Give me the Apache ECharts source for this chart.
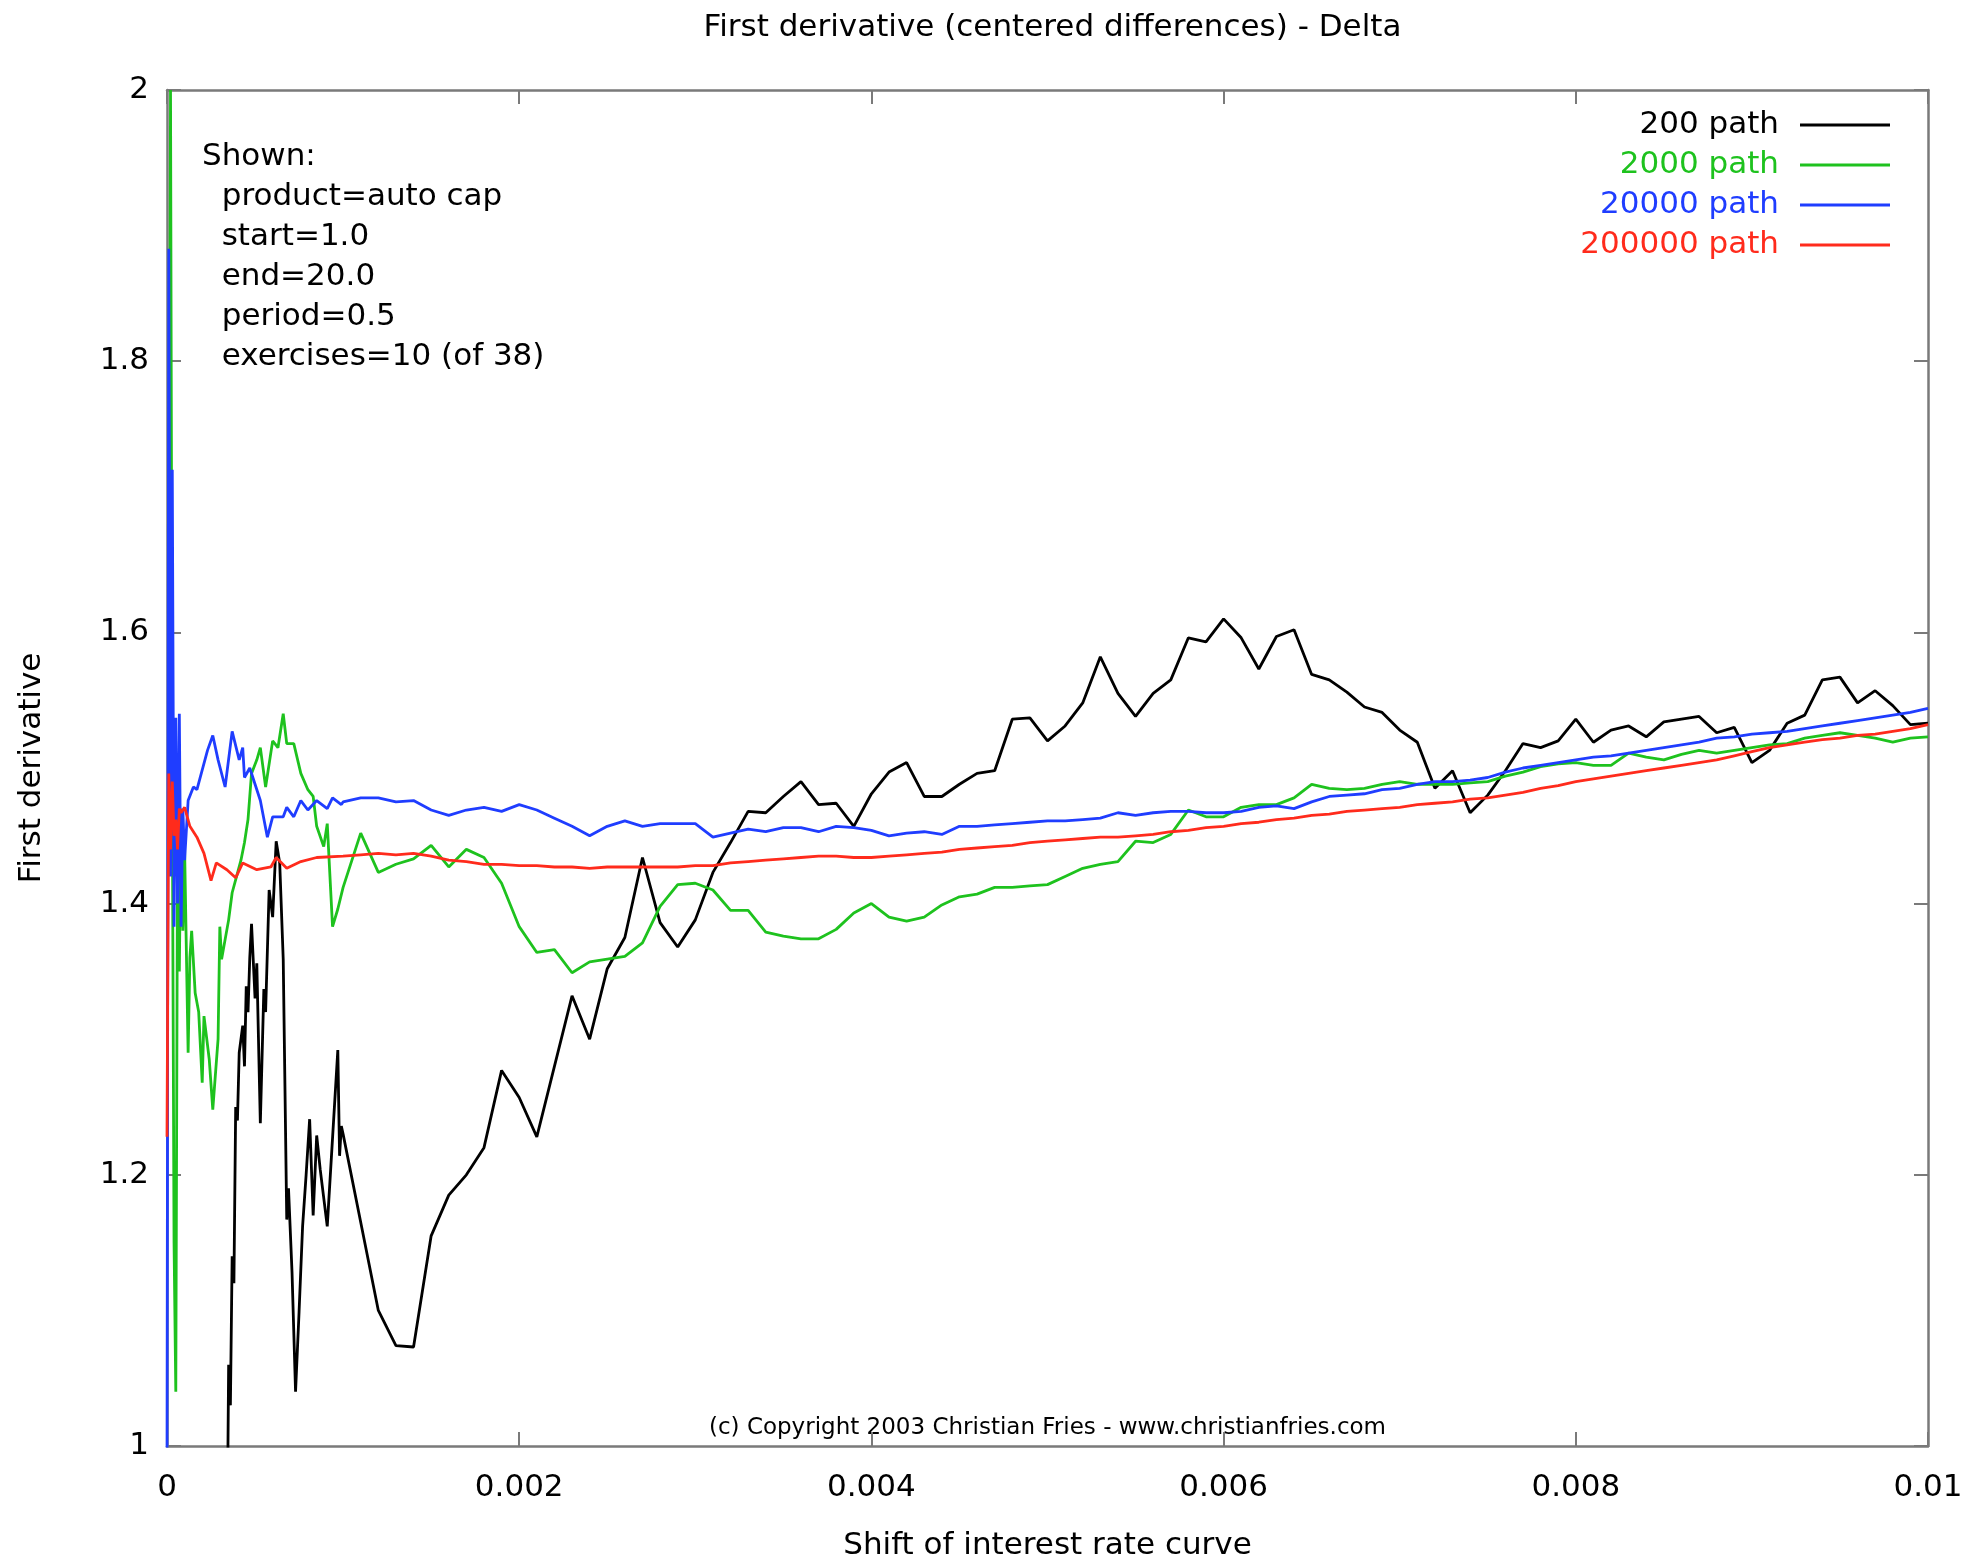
<!DOCTYPE html>
<html>
<head>
<meta charset="utf-8">
<title>First derivative (centered differences) - Delta</title>
<script src="https://cdn.jsdelivr.net/npm/echarts@6/dist/echarts.min.js"></script>
<style>
  html, body { margin: 0; padding: 0; background: #fff; }
  #chart { width: 1979px; height: 1566px; }
</style>
</head>
<body>
<div id="chart"></div>
<script>
// shift grid used from 0.001 on (step 0.0001)
const shiftCoarse = [
  0.0010, 0.0011, 0.0012, 0.0013, 0.0014, 0.0015, 0.0016, 0.0017, 0.0018, 0.0019,
  0.0020, 0.0021, 0.0022, 0.0023, 0.0024, 0.0025, 0.0026, 0.0027, 0.0028, 0.0029,
  0.0030, 0.0031, 0.0032, 0.0033, 0.0034, 0.0035, 0.0036, 0.0037, 0.0038, 0.0039,
  0.0040, 0.0041, 0.0042, 0.0043, 0.0044, 0.0045, 0.0046, 0.0047, 0.0048, 0.0049,
  0.0050, 0.0051, 0.0052, 0.0053, 0.0054, 0.0055, 0.0056, 0.0057, 0.0058, 0.0059,
  0.0060, 0.0061, 0.0062, 0.0063, 0.0064, 0.0065, 0.0066, 0.0067, 0.0068, 0.0069,
  0.0070, 0.0071, 0.0072, 0.0073, 0.0074, 0.0075, 0.0076, 0.0077, 0.0078, 0.0079,
  0.0080, 0.0081, 0.0082, 0.0083, 0.0084, 0.0085, 0.0086, 0.0087, 0.0088, 0.0089,
  0.0090, 0.0091, 0.0092, 0.0093, 0.0094, 0.0095, 0.0096, 0.0097, 0.0098, 0.0099,
  0.0100
]

// noisy start (shift < 0.001), read as [shift, value] vertices
const fine200 = [
  [0.00034, 0.9], [0.00035, 1.06], [0.00036, 1.03], [0.00037, 1.14], [0.00038, 1.12],
  [0.00039, 1.25], [0.0004, 1.24], [0.00041, 1.29], [0.00043, 1.31], [0.00044, 1.28],
  [0.00045, 1.339], [0.00046, 1.32], [0.00047, 1.36], [0.00048, 1.385], [0.0005, 1.33],
  [0.00051, 1.356], [0.00053, 1.238], [0.00055, 1.337], [0.00056, 1.32], [0.00058, 1.41],
  [0.0006, 1.39], [0.00062, 1.446], [0.00064, 1.43], [0.00066, 1.359], [0.00068, 1.167],
  [0.00069, 1.19], [0.00071, 1.128], [0.00073, 1.04], [0.00075, 1.099], [0.00077, 1.162],
  [0.00079, 1.2], [0.00081, 1.241], [0.00083, 1.17], [0.00085, 1.229], [0.00087, 1.204],
  [0.00091, 1.162], [0.00097, 1.292], [0.00098, 1.214], [0.00099, 1.236]
]
const fine2000 = [
  [0.00001, 1.5], [0.00002, 2.0], [0.00003, 1.48], [0.00004, 1.15], [0.00005, 1.04],
  [0.00006, 1.45], [0.00007, 1.35], [0.00008, 1.47], [0.00009, 1.38], [0.0001, 1.44],
  [0.00012, 1.29], [0.00013, 1.36], [0.00014, 1.38], [0.00016, 1.334], [0.00018, 1.32],
  [0.0002, 1.268], [0.00021, 1.317], [0.00024, 1.285], [0.00026, 1.248], [0.00029, 1.30],
  [0.0003, 1.383], [0.00031, 1.359], [0.00035, 1.388], [0.00037, 1.408], [0.00042, 1.432],
  [0.00044, 1.445], [0.00046, 1.462], [0.00048, 1.496], [0.00051, 1.506], [0.00053, 1.515],
  [0.00056, 1.486], [0.0006, 1.52], [0.00063, 1.515], [0.00066, 1.54], [0.00068, 1.518],
  [0.00072, 1.518], [0.00076, 1.496], [0.0008, 1.484], [0.00083, 1.479], [0.00085, 1.457],
  [0.00089, 1.442], [0.00091, 1.459], [0.00094, 1.383], [0.00097, 1.396]
]
const fine20000 = [
  [0, 0.98], [0.00001, 1.883], [0.00002, 1.42], [0.00003, 1.72], [0.00004, 1.383],
  [0.00005, 1.537], [0.00006, 1.40], [0.00007, 1.54], [0.00008, 1.383], [0.00009, 1.47],
  [0.0001, 1.432], [0.00012, 1.476], [0.00015, 1.486], [0.00017, 1.484], [0.00023, 1.513],
  [0.00026, 1.524], [0.00029, 1.506], [0.00033, 1.486], [0.00037, 1.527], [0.00041, 1.506],
  [0.00043, 1.515], [0.00044, 1.493], [0.00047, 1.50], [0.00053, 1.476], [0.00057, 1.449],
  [0.0006, 1.464], [0.00066, 1.464], [0.00068, 1.471], [0.00072, 1.464], [0.00076, 1.476],
  [0.0008, 1.469], [0.00085, 1.476], [0.00091, 1.47], [0.00094, 1.478], [0.00099, 1.473]
]
const fine200000 = [
  [0, 1.228], [0.00001, 1.496], [0.00002, 1.44], [0.00003, 1.49], [0.00004, 1.45],
  [0.00005, 1.462], [0.00006, 1.44], [0.00007, 1.47], [0.00008, 1.467], [0.0001, 1.471],
  [0.00013, 1.457], [0.00017, 1.449], [0.00021, 1.437], [0.00025, 1.417], [0.00028, 1.43],
  [0.00034, 1.425], [0.00039, 1.419], [0.00043, 1.43], [0.00051, 1.425], [0.00059, 1.427],
  [0.00062, 1.434], [0.00068, 1.426], [0.00076, 1.431], [0.00085, 1.434]
]

// values on shiftCoarse
const coarse200 = [
  1.23, 1.165, 1.10, 1.074, 1.073, 1.155, 1.185, 1.20, 1.22, 1.277,
  1.257, 1.228, 1.28, 1.332, 1.30, 1.352, 1.375, 1.434, 1.386, 1.368,
  1.388, 1.423, 1.445, 1.468, 1.467, 1.479, 1.49, 1.473, 1.474, 1.457,
  1.481, 1.497, 1.504, 1.479, 1.479, 1.488, 1.496, 1.498, 1.536, 1.537,
  1.52, 1.531, 1.548, 1.582, 1.555, 1.538, 1.555, 1.565, 1.596, 1.593,
  1.61, 1.596, 1.573, 1.597, 1.602, 1.569, 1.565, 1.556, 1.545, 1.541,
  1.528, 1.519, 1.485, 1.498, 1.467, 1.48, 1.498, 1.518, 1.515, 1.52,
  1.536, 1.519, 1.528, 1.531, 1.523, 1.534, 1.536, 1.538, 1.526, 1.53,
  1.504, 1.513, 1.533, 1.539, 1.565, 1.567, 1.548, 1.557, 1.546, 1.532,
  1.533
]
const coarse2000 = [
  1.412, 1.452, 1.423, 1.429, 1.433, 1.443, 1.427, 1.44, 1.434, 1.415,
  1.383, 1.364, 1.366, 1.349, 1.357, 1.359, 1.361, 1.371, 1.398, 1.414,
  1.415, 1.41, 1.395, 1.395, 1.379, 1.376, 1.374, 1.374, 1.381, 1.393,
  1.40, 1.39, 1.387, 1.39, 1.399, 1.405, 1.407, 1.412, 1.412, 1.413,
  1.414, 1.42, 1.426, 1.429, 1.431, 1.446, 1.445, 1.451, 1.469, 1.464,
  1.464, 1.471, 1.473, 1.473, 1.478, 1.488, 1.485, 1.484, 1.485, 1.488,
  1.49, 1.488, 1.488, 1.488, 1.489, 1.49, 1.494, 1.497, 1.501, 1.503,
  1.504, 1.502, 1.502, 1.511, 1.508, 1.506, 1.51, 1.513, 1.511, 1.513,
  1.515, 1.517, 1.518, 1.522, 1.524, 1.526, 1.524, 1.522, 1.519, 1.522,
  1.523
]
const coarse20000 = [
  1.475, 1.478, 1.478, 1.475, 1.476, 1.469, 1.465, 1.469, 1.471, 1.468,
  1.473, 1.469, 1.463, 1.457, 1.45, 1.457, 1.461, 1.457, 1.459, 1.459,
  1.459, 1.449, 1.452, 1.455, 1.453, 1.456, 1.456, 1.453, 1.457, 1.456,
  1.454, 1.45, 1.452, 1.453, 1.451, 1.457, 1.457, 1.458, 1.459, 1.46,
  1.461, 1.461, 1.462, 1.463, 1.467, 1.465, 1.467, 1.468, 1.468, 1.467,
  1.467, 1.468, 1.471, 1.472, 1.47, 1.475, 1.479, 1.48, 1.481, 1.484,
  1.485, 1.488, 1.49, 1.49, 1.491, 1.493, 1.497, 1.5, 1.502, 1.504,
  1.506, 1.508, 1.509, 1.511, 1.513, 1.515, 1.517, 1.519, 1.522, 1.523,
  1.525, 1.526, 1.527, 1.529, 1.531, 1.533, 1.535, 1.537, 1.539, 1.541,
  1.544
]
const coarse200000 = [
  1.435, 1.436, 1.437, 1.436, 1.437, 1.435, 1.432, 1.431, 1.429, 1.429,
  1.428, 1.428, 1.427, 1.427, 1.426, 1.427, 1.427, 1.427, 1.427, 1.427,
  1.428, 1.428, 1.43, 1.431, 1.432, 1.433, 1.434, 1.435, 1.435, 1.434,
  1.434, 1.435, 1.436, 1.437, 1.438, 1.44, 1.441, 1.442, 1.443, 1.445,
  1.446, 1.447, 1.448, 1.449, 1.449, 1.45, 1.451, 1.453, 1.454, 1.456,
  1.457, 1.459, 1.46, 1.462, 1.463, 1.465, 1.466, 1.468, 1.469, 1.47,
  1.471, 1.473, 1.474, 1.475, 1.477, 1.478, 1.48, 1.482, 1.485, 1.487,
  1.49, 1.492, 1.494, 1.496, 1.498, 1.5, 1.502, 1.504, 1.506, 1.509,
  1.512, 1.515, 1.517, 1.519, 1.521, 1.522, 1.524, 1.525, 1.527, 1.529,
  1.532
]

const names = ['200 path', '2000 path', '20000 path', '200000 path']
const colors = ['#000000', '#1ec21e', '#1f3dff', '#ff2b1c']
const fines = [fine200, fine2000, fine20000, fine200000]
const coarses = [coarse200, coarse2000, coarse20000, coarse200000]

const infoLines = [
  'Shown:',
  '  product=auto cap',
  '  start=1.0',
  '  end=20.0',
  '  period=0.5',
  '  exercises=10 (of 38)'
]

const FONT = 'DejaVu Sans'
const frame = '#7a7a7a'

const build = (fine, coarse) => fine.concat(shiftCoarse.map((x, i) => [x, coarse[i]]))

const chart = echarts.init(document.getElementById('chart'))

const axisLine = { onZero: false, lineStyle: { color: frame, width: 2.5 } }
const axisTick = { inside: true, length: 14, lineStyle: { color: frame, width: 2 } }

const option = {
  animation: false,
  backgroundColor: '#ffffff',
  textStyle: { fontFamily: FONT },
  title: {
    text: 'First derivative (centered differences) - Delta',
    left: 1047.5,
    textAlign: 'center',
    top: 5,
    textStyle: { fontFamily: FONT, fontSize: 31, fontWeight: 'normal', color: '#000', lineHeight: 36 }
  },
  legend: names.map((n, i) => ({
    data: [n],
    right: 89,
    top: 107 + i * 40,
    padding: 0,
    align: 'right',
    icon: 'rect',
    itemWidth: 90,
    itemHeight: 3,
    selectedMode: false,
    textStyle: { fontFamily: FONT, color: colors[i], fontSize: 31, lineHeight: 36, padding: [0, 16, 0, 0] }
  })),
  grid: { left: 167, right: 51, top: 90, bottom: 116 },
  xAxis: [
    {
      type: 'value', min: 0, max: 0.01, interval: 0.002,
      name: 'Shift of interest rate curve', nameLocation: 'middle', nameGap: 84,
      nameTextStyle: { fontFamily: FONT, fontSize: 31, color: '#000' },
      axisLine, axisTick,
      axisLabel: { margin: 26, fontFamily: FONT, fontSize: 31, color: '#000' },
      splitLine: { show: false }
    },
    {
      type: 'value', position: 'top', min: 0, max: 0.01, interval: 0.002,
      axisLine, axisTick, axisLabel: { show: false }, splitLine: { show: false }
    }
  ],
  yAxis: [
    {
      type: 'value', min: 1, max: 2, interval: 0.2,
      name: 'First derivative', nameLocation: 'middle', nameGap: 120,
      nameTextStyle: { fontFamily: FONT, fontSize: 31, color: '#000' },
      axisLine, axisTick,
      axisLabel: { margin: 18, fontFamily: FONT, fontSize: 31, color: '#000' },
      splitLine: { show: false }
    },
    {
      type: 'value', position: 'right', min: 1, max: 2, interval: 0.2,
      axisLine, axisTick, axisLabel: { show: false }, splitLine: { show: false }
    }
  ],
  series: names.map((n, i) => ({
    name: n,
    type: 'line',
    xAxisIndex: 0,
    yAxisIndex: 0,
    color: colors[i],
    showSymbol: false,
    symbol: 'none',
    clip: true,
    lineStyle: { width: 2.8, color: colors[i] },
    emphasis: { disabled: true },
    data: build(fines[i], coarses[i])
  })),
  graphic: [
    {
      type: 'text', left: 202, top: 137, silent: true,
      style: { text: infoLines.join('\n'), fontFamily: FONT, fontSize: 31, lineHeight: 40, fill: '#000' }
    },
    {
      type: 'text', x: 1047.5, y: 1428, silent: true,
      style: {
        text: '(c) Copyright 2003 Christian Fries - www.christianfries.com',
        fontFamily: FONT, fontSize: 23, fill: '#000', align: 'center', verticalAlign: 'middle'
      }
    }
  ]
}

chart.setOption(option)
</script>
</body>
</html>
